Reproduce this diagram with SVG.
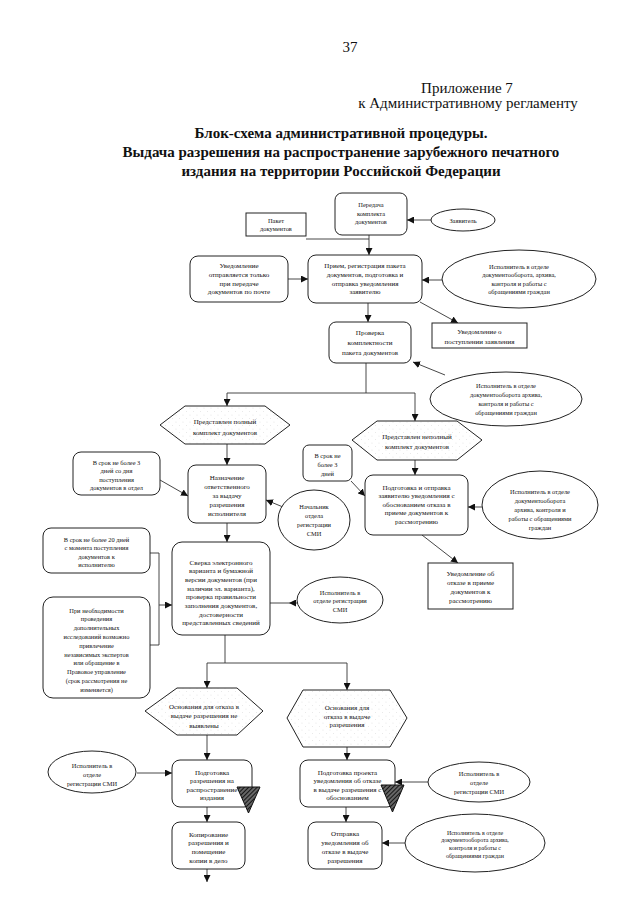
<svg xmlns="http://www.w3.org/2000/svg" width="640" height="905" viewBox="0 0 640 905">
<style>
.n{fill:#fff;stroke:#222;stroke-width:1}
.h{fill:url(#sp);stroke:#222;stroke-width:1}
.t{font-family:"Liberation Serif","Times New Roman",serif;font-size:7px;text-anchor:middle;fill:#111}
.s{font-size:6.4px}
.c{fill:none;stroke:#333;stroke-width:0.9}
.a{marker-end:url(#ah)}
.hd{font-family:"Liberation Serif","Times New Roman",serif;fill:#111}
.tri{fill:url(#hatch);stroke:#111;stroke-width:1}
</style>
<defs>
<marker id="ah" viewBox="0 0 10 10" refX="10" refY="5" markerWidth="7" markerHeight="7" markerUnits="userSpaceOnUse" orient="auto"><path d="M0,0 L10,5 L0,10 z" fill="#111"/></marker>
<pattern id="sp" width="7" height="7" patternUnits="userSpaceOnUse"><rect width="7" height="7" fill="#fff"/><circle cx="1" cy="2" r="0.35" fill="#999"/><circle cx="4.5" cy="5.5" r="0.35" fill="#aaa"/></pattern>
<pattern id="hatch" width="3" height="3" patternUnits="userSpaceOnUse" patternTransform="rotate(45)"><rect width="3" height="3" fill="#666"/><line x1="0" y1="0" x2="0" y2="3" stroke="#000" stroke-width="1.6"/></pattern>
</defs>

<g id="header">
<text class="hd" x="350" y="52" font-size="15" text-anchor="middle">37</text>
<text class="hd" x="467" y="93" font-size="15" text-anchor="middle">Приложение 7</text>
<text class="hd" x="468" y="108" font-size="15" text-anchor="middle">к Административному регламенту</text>
<text class="hd" x="341" y="138" font-size="15" font-weight="bold" text-anchor="middle">Блок-схема административной процедуры.</text>
<text class="hd" x="341" y="157" font-size="15" font-weight="bold" text-anchor="middle">Выдача разрешения на распространение зарубежного печатного</text>
<text class="hd" x="341" y="176" font-size="15" font-weight="bold" text-anchor="middle">издания на территории Российской Федерации</text>
</g>

<g id="connectors">
<path class="c a" d="M432,220 H407"/>
<path class="c" d="M306,239 H369"/>
<path class="c a" d="M369,235 V255"/>
<path class="c a" d="M288,279 H308"/>
<path class="c a" d="M442,280 H422"/>
<path class="c a" d="M420,302 L458,323"/>
<path class="c a" d="M368,303 V322"/>
<path class="c a" d="M445,375 L413,362"/>
<path class="c" d="M366,363 V393 M227,393 H415"/>
<path class="c a" d="M227,393 V406"/>
<path class="c a" d="M415,393 V421"/>
<path class="c a" d="M227,444 V465"/>
<path class="c a" d="M160,480 L188,496"/>
<path class="c a" d="M283,507 L266,500"/>
<path class="c a" d="M415,460 V475"/>
<path class="c a" d="M351,481 L365,496"/>
<path class="c a" d="M483,507 H468"/>
<path class="c a" d="M422,535 L458,563"/>
<path class="c a" d="M227,523 V542"/>
<path class="c" d="M150,553 H159 V645 H150"/>
<path class="c a" d="M159,605 H172"/>
<path class="c" d="M289,603 H270"/>
<path class="c a" d="M297,603 H289"/>
<path class="c" d="M225,635 V663 M207,663 H347"/>
<path class="c a" d="M207,663 V688"/>
<path class="c a" d="M347,663 V690"/>
<path class="c a" d="M207,735 V760"/>
<path class="c a" d="M137,773 H172"/>
<path class="c a" d="M207,807 V822"/>
<path class="c a" d="M207,869 V882"/>
<path class="c a" d="M347,747 V760"/>
<path class="c a" d="M428,782 H395"/>
<path class="c a" d="M346,807 V822"/>
<path class="c a" d="M405,843 H382"/>
</g>

<g id="n1"><rect class="n" x="335" y="193" width="72" height="42" rx="7"/>
<text class="t s" x="371" y="207">Передача<tspan x="371" y="215.5">комплекта</tspan><tspan x="371" y="224">документов</tspan></text></g>

<g id="n2"><rect class="n" x="246" y="213" width="60" height="23"/>
<text class="t s" x="276" y="222.5">Пакет<tspan x="276" y="231">документов</tspan></text></g>

<g id="n3"><ellipse class="n" cx="463" cy="220" rx="32" ry="11"/>
<text class="t s" x="463" y="222.5">Заявитель</text></g>

<g id="n4"><rect class="n" x="190" y="256" width="98" height="46" rx="8"/>
<text class="t" x="239" y="268.3">Уведомление<tspan x="239" y="277">отправляется только</tspan><tspan x="239" y="285.7">при передаче</tspan><tspan x="239" y="294.4">документов по почте</tspan></text></g>

<g id="n5"><rect class="n" x="308" y="255" width="114" height="48" rx="8"/>
<text class="t" x="365" y="268.3">Прием, регистрация пакета<tspan x="365" y="277">документов, подготовка и</tspan><tspan x="365" y="285.7">отправка уведомления</tspan><tspan x="365" y="294.4">заявителю</tspan></text></g>

<g id="n6"><ellipse class="n" cx="519" cy="279" rx="77" ry="29"/>
<text class="t s" x="519" y="268.5">Исполнитель в отделе<tspan x="519" y="277">документооборота, архива,</tspan><tspan x="519" y="285.5">контроля и работы с</tspan><tspan x="519" y="294">обращениями граждан</tspan></text></g>

<g id="n7"><rect class="n" x="432" y="323" width="95" height="25"/>
<text class="t" x="479.5" y="334">Уведомление о<tspan x="479.5" y="343.5">поступлении заявления</tspan></text></g>

<g id="n8"><rect class="n" x="329" y="322" width="82" height="41" rx="7"/>
<text class="t" x="370" y="334.5">Проверка<tspan x="370" y="344.5">комплектности</tspan><tspan x="370" y="354.5">пакета документов</tspan></text></g>

<g id="n9"><ellipse class="n" cx="506" cy="399" rx="76" ry="27"/>
<text class="t s" x="506" y="387.5">Исполнитель в отделе<tspan x="506" y="396.5">документооборота архива,</tspan><tspan x="506" y="405.5">контроля и работы с</tspan><tspan x="506" y="414.5">обращениями граждан</tspan></text></g>

<g id="n10"><polygon class="h" points="160,425 185,406 265,406 290,425 265,444 185,444"/>
<text class="t" x="225" y="423.5">Представлен полный<tspan x="225" y="434.5">комплект документов</tspan></text></g>

<g id="n11"><polygon class="h" points="352,440 377,421 457,421 482,440 457,460 377,460"/>
<text class="t" x="417" y="438.5">Представлен неполный<tspan x="417" y="449">комплект документов</tspan></text></g>

<g id="n12"><rect class="n" x="73" y="452" width="87" height="43" rx="8"/>
<text class="t s" x="116.5" y="464.5">В срок не более 3<tspan x="116.5" y="473">дней со дня</tspan><tspan x="116.5" y="481.5">поступления</tspan><tspan x="116.5" y="490">документов в отдел</tspan></text></g>

<g id="n13"><rect class="n" x="188" y="465" width="78" height="58" rx="8"/>
<text class="t" x="227" y="479.5">Назначение<tspan x="227" y="488.5">ответственного</tspan><tspan x="227" y="497.5">за выдачу</tspan><tspan x="227" y="506.5">разрешения</tspan><tspan x="227" y="515.5">исполнителя</tspan></text></g>

<g id="n14"><ellipse class="n" cx="314" cy="520" rx="36" ry="30"/>
<text class="t s" x="314" y="508.5">Начальник<tspan x="314" y="517.5">отдела</tspan><tspan x="314" y="526.5">регистрации</tspan><tspan x="314" y="535.5">СМИ</tspan></text></g>

<g id="n15"><rect class="n" x="303" y="445" width="49" height="36" rx="6"/>
<text class="t s" x="327.5" y="457.5">В срок не<tspan x="327.5" y="466.5">более 3</tspan><tspan x="327.5" y="475.5">дней</tspan></text></g>

<g id="n16"><rect class="n" x="365" y="475" width="103" height="60" rx="8"/>
<text class="t" x="416.5" y="489.5">Подготовка и отправка<tspan x="416.5" y="498">заявителю уведомления с</tspan><tspan x="416.5" y="506.5">обоснованием отказа в</tspan><tspan x="416.5" y="515">приеме документов к</tspan><tspan x="416.5" y="523.5">рассмотрению</tspan></text></g>

<g id="n17"><ellipse class="n" cx="540" cy="505" rx="58" ry="34"/>
<text class="t s" x="540" y="493.5">Исполнитель в отделе<tspan x="540" y="502.5">документооборота</tspan><tspan x="540" y="511.5">архива, контроля и</tspan><tspan x="540" y="520.5">работы с обращениями</tspan><tspan x="540" y="529.5">граждан</tspan></text></g>

<g id="n18"><rect class="n" x="428" y="563" width="85" height="46"/>
<text class="t" x="470.5" y="575.5">Уведомление об<tspan x="470.5" y="584.5">отказе в приеме</tspan><tspan x="470.5" y="593.5">документов к</tspan><tspan x="470.5" y="602.5">рассмотрению</tspan></text></g>

<g id="n19"><rect class="n" x="43" y="528" width="107" height="45" rx="8"/>
<text class="t s" x="96.5" y="541.5">В срок не более 20 дней<tspan x="96.5" y="550">с момента поступления</tspan><tspan x="96.5" y="558.5">документов к</tspan><tspan x="96.5" y="567">исполнителю</tspan></text></g>

<g id="n20"><rect class="n" x="43" y="597" width="107" height="101" rx="10"/>
<text class="t s" x="96.5" y="612.5">При необходимости<tspan x="96.5" y="621.3">проведения</tspan><tspan x="96.5" y="630.1">дополнительных</tspan><tspan x="96.5" y="638.9">исследований возможно</tspan><tspan x="96.5" y="647.7">привлечение</tspan><tspan x="96.5" y="656.5">независимых экспертов</tspan><tspan x="96.5" y="665.3">или обращение в</tspan><tspan x="96.5" y="674.1">Правовое управление</tspan><tspan x="96.5" y="682.9">(срок рассмотрения не</tspan><tspan x="96.5" y="691.7">изменяется)</tspan></text></g>

<g id="n21"><rect class="n" x="172" y="542" width="98" height="93" rx="10"/>
<text class="t" x="221" y="564.5">Сверка электронного<tspan x="221" y="573.2">варианта и бумажной</tspan><tspan x="221" y="581.9">версии документов (при</tspan><tspan x="221" y="590.6">наличии эл. варианта),</tspan><tspan x="221" y="599.3">проверка правильности</tspan><tspan x="221" y="608">заполнения документов,</tspan><tspan x="221" y="616.7">достоверности</tspan><tspan x="221" y="625.4">представленных сведений</tspan></text></g>

<g id="n22"><ellipse class="n" cx="340" cy="600" rx="43" ry="23"/>
<text class="t s" x="340" y="594.5">Исполнитель в<tspan x="340" y="603">отделе регистрации</tspan><tspan x="340" y="611.5">СМИ</tspan></text></g>

<g id="n23"><polygon class="h" points="145,711 177,688 237,688 263,711 237,735 177,735"/>
<text class="t" x="204" y="708.5">Основания для отказа в<tspan x="204" y="718">выдаче разрешения не</tspan><tspan x="204" y="727.5">выявлены</tspan></text></g>

<g id="n24"><polygon class="h" points="287,718 303,690 390,690 407,718 390,747 303,747"/>
<text class="t" x="347" y="709.5">Основания для<tspan x="347" y="718.5">отказа в выдаче</tspan><tspan x="347" y="727">разрешения</tspan></text></g>

<g id="n25"><ellipse class="n" cx="92" cy="772" rx="44" ry="21"/>
<text class="t s" x="92" y="767.5">Исполнитель в<tspan x="92" y="776.5">отделе</tspan><tspan x="92" y="785.5">регистрации СМИ</tspan></text></g>

<g id="n26"><rect class="n" x="172" y="760" width="80" height="47" rx="8"/>
<text class="t" x="212" y="774.5">Подготовка<tspan x="212" y="783">разрешения на</tspan><tspan x="212" y="791.5">распространение</tspan><tspan x="212" y="800">издания</tspan></text>
<polygon class="tri" points="237,787 260,787 248.5,813"/></g>

<g id="n27"><rect class="n" x="300" y="760" width="95" height="47" rx="8"/>
<text class="t" x="347.5" y="774.5">Подготовка проекта<tspan x="347.5" y="783">уведомления об отказе</tspan><tspan x="347.5" y="791.5">в выдаче разрешения с</tspan><tspan x="347.5" y="800">обоснованием</tspan></text>
<polygon class="tri" points="381,785 404,785 392.5,812"/></g>

<g id="n28"><ellipse class="n" cx="479" cy="782" rx="51" ry="20"/>
<text class="t s" x="479" y="775.5">Исполнитель в<tspan x="479" y="784.5">отделе</tspan><tspan x="479" y="793.5">регистрации СМИ</tspan></text></g>

<g id="n29"><rect class="n" x="172" y="822" width="73" height="47" rx="8"/>
<text class="t" x="208.5" y="836.5">Копирование<tspan x="208.5" y="845.2">разрешения и</tspan><tspan x="208.5" y="853.8">помещение</tspan><tspan x="208.5" y="862.5">копии в дело</tspan></text></g>

<g id="n30"><rect class="n" x="308" y="822" width="74" height="47" rx="8"/>
<text class="t" x="345" y="835.5">Отправка<tspan x="345" y="844.5">уведомления об</tspan><tspan x="345" y="853.5">отказе в выдаче</tspan><tspan x="345" y="862.5">разрешения</tspan></text></g>

<g id="n31"><ellipse class="n" cx="475" cy="843" rx="70" ry="29"/>
<text class="t" font-size="6" x="475" y="834.5" style="font-size:6px">Исполнитель в отделе<tspan x="475" y="842.2">документооборота архива,</tspan><tspan x="475" y="849.8">контроля и работы с</tspan><tspan x="475" y="857.5">обращениями граждан</tspan></text></g>
</svg>
